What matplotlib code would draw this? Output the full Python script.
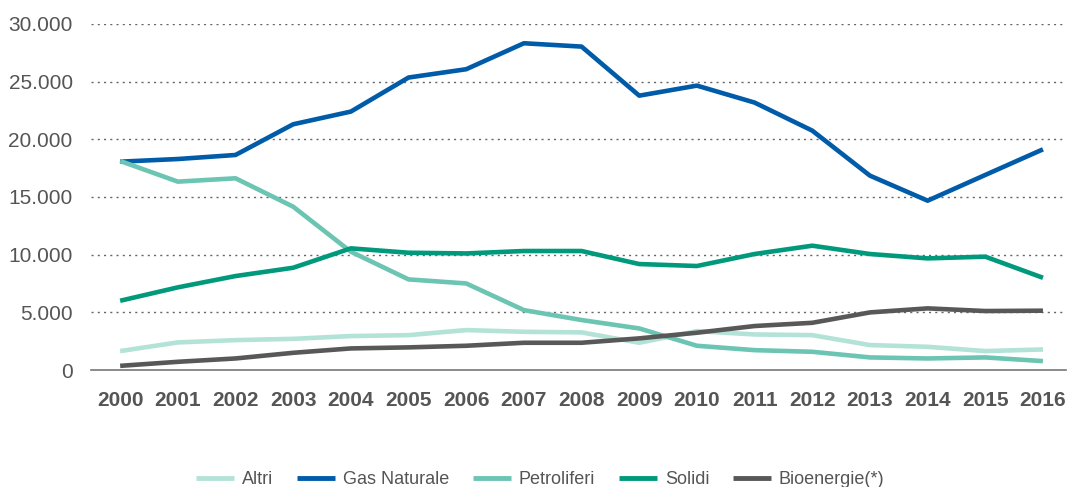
import matplotlib
matplotlib.use("Agg")
import matplotlib.pyplot as plt
import numpy as np

# dati
anni = list(range(2000, 2017))
altri = [1650, 2400, 2600, 2710, 2950, 3030, 3470, 3320, 3270, 2370, 3380, 3090, 3030, 2170, 2020, 1650, 1790]
gas_naturale = [18060, 18290, 18640, 21300, 22400, 25350, 26070, 28320, 28030, 23780, 24650, 23180, 20750, 16850, 14680, 16910, 19130]
petroliferi = [18120, 16330, 16620, 14160, 10260, 7860, 7510, 5200, 4340, 3610, 2110, 1730, 1590, 1100, 1010, 1100, 780]
solidi = [6010, 7170, 8150, 8870, 10550, 10170, 10110, 10320, 10320, 9190, 9020, 10060, 10780, 10060, 9680, 9830, 8000]
bioenergie = [370, 720, 1010, 1500, 1880, 1970, 2110, 2370, 2370, 2750, 3240, 3820, 4100, 5000, 5350, 5120, 5150]

serie = [
    ("Altri", altri, "#b3e2d7"),
    ("Gas Naturale", gas_naturale, "#005ba9"),
    ("Petroliferi", petroliferi, "#6cc4b3"),
    ("Solidi", solidi, "#00997b"),
    ("Bioenergie(*)", bioenergie, "#585858"),
]

plt.rcParams['font.family'] = ['Liberation Sans', 'DejaVu Sans']

fig = plt.figure(figsize=(10.7, 4.87), dpi=100)
ax = fig.add_axes([0.0848, 0.240, 0.9115, 0.711])

for nome, valori, colore in serie:
    ax.plot(anni, valori, color=colore, lw=3.3, label=nome, solid_capstyle='butt')

ax.set_xlim(1999.49, 2016.40)
ax.set_ylim(0, 30000)
ax.set_yticks(range(0, 30001, 5000))
ax.set_yticklabels(["0"] + [f"{v // 1000}.000" for v in range(5000, 30001, 5000)])
ax.set_xticks(anni)
ax.set_xticklabels([str(a) for a in anni], fontweight='bold')

for v in range(5000, 30001, 5000):
    ax.axhline(v, color="#666666", lw=1, ls=(0, (1.5, 3)), zorder=0)

for s in ["top", "right", "left"]:
    ax.spines[s].set_visible(False)
ax.spines["bottom"].set_color("#777777")
ax.spines["bottom"].set_linewidth(1.2)

ax.tick_params(axis='y', length=0, labelsize=15, labelcolor="#555555", pad=13)
ax.tick_params(axis='x', length=0, labelsize=15, labelcolor="#555555", pad=15)

leg = fig.legend(loc='lower center', bbox_to_anchor=(0.505, -0.036), ncol=5, frameon=False,
                 fontsize=13, handlelength=2.1, columnspacing=1.3, handletextpad=0.45)
for t in leg.get_texts():
    t.set_color("#555555")
for l in leg.get_lines():
    l.set_linewidth(3.5)

fig.savefig("out.png", dpi=100)
